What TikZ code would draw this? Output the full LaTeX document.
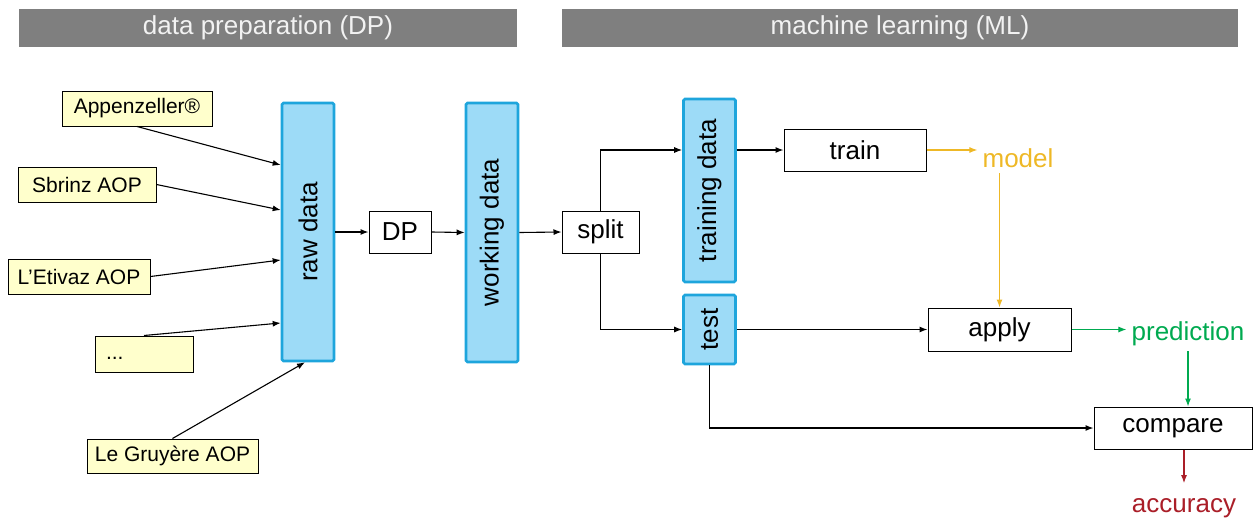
\documentclass[tikz,border=0pt]{standalone}
\usepackage{fontspec}
\setmainfont{Liberation Sans}
\usepackage{graphicx}
\usetikzlibrary{calc, positioning}
\usetikzlibrary{arrows.meta}

\definecolor{barGray}{RGB}{127,127,127}
\definecolor{barText}{RGB}{242,242,242}
\definecolor{dataFill}{RGB}{157,219,247}
\definecolor{dataEdge}{RGB}{30,165,220}
\definecolor{cheeseFill}{RGB}{255,255,204}
\definecolor{modelCol}{RGB}{238,184,38}
\definecolor{predCol}{RGB}{0,170,80}
\definecolor{accCol}{RGB}{170,30,40}

\begin{document}
\begin{tikzpicture}[x=1pt, y=-1pt,
  bar/.style={fill=barGray, text=barText, minimum height=38pt, inner sep=0pt,
    font=\fontsize{26}{30}\selectfont},
  store/.style={draw=dataEdge, line width=2.6pt, fill=dataFill, rounded corners=1.5pt,
    minimum width=52pt, inner sep=0pt, font=\fontsize{26}{30}\selectfont},
  cheese/.style={draw, line width=1pt, fill=cheeseFill, minimum height=34pt, inner sep=0pt,
    font=\fontsize{21}{25}\selectfont},
  proc/.style={draw, line width=1pt, fill=white, minimum height=42pt, inner sep=0pt,
    font=\fontsize{26}{30}\selectfont},
  outcome/.style={inner sep=5pt, font=\fontsize{26}{30}\selectfont},
  flow/.style={-{Latex[length=8pt, width=6pt]}, line width=1.1pt}]

\useasboundingbox (0,0) rectangle (1253,525);

\node[bar, minimum width=498pt] (dpbar) at (268,28) {data preparation (DP)};
\node[bar, minimum width=676pt] (mlbar) at (900,28) {machine learning (ML)};

\node[cheese, minimum width=150pt, minimum height=35pt] (app) at (137,108.5) {Appenzeller®};
\node[cheese, minimum width=138pt, minimum height=35pt] (sbr) at (87,184.5) {Sbrinz AOP};
\node[cheese, minimum width=142pt, minimum height=35pt] (eti) at (79,276.5) {L’Etivaz AOP};
\node[cheese, minimum width=98pt, minimum height=36pt] (dots) at (144,354)
  {\makebox[76pt][l]{\raisebox{-5pt}[0pt][0pt]{...}}};
\node[cheese, minimum width=171pt] (gru) at (172.5,456) {Le Gruyère AOP};

\node[store, minimum height=258pt] (raw) at (308,232) {\rotatebox{90}{raw data}};
\node[proc, minimum width=62pt] (dp) at (400,232) {DP};
\node[store, minimum height=259pt] (work) at (492,232.5) {\rotatebox{90}{working data}};
\node[proc, minimum width=77pt] (split) at (600.5,232) {split};
\node[store, minimum height=183pt] (trn) at (709.5,190.5) {\rotatebox{90}{training data}};
\node[store, minimum height=69pt] (tst) at (709.5,329.5) {\rotatebox{90}{test}};

\node[proc, minimum width=142pt] (train) at (855,150) {train};
\node[proc, minimum width=143pt, minimum height=43pt] (apply) at (999.5,329.5) {apply};
\node[proc, minimum width=158pt] (cmp) at (1173,428) {compare};

\node[outcome, text=modelCol] (model) at (1018,158.5) {model};
\node[outcome, text=predCol] (pred) at (1188,334) {prediction};
\node[outcome, text=accCol] (acc) at (1184,508) {accuracy};

\draw[flow] (app.south) -- ([yshift=67pt]raw.west);
\draw[flow] (sbr.east) -- ([yshift=22pt]raw.west);
\draw[flow] (eti.east) -- ([yshift=-28pt]raw.west);
\draw[flow] (dots.north) -- ([yshift=-91pt]raw.west);
\draw[flow] (gru.north) -- ([xshift=-3pt]raw.south);

\draw[flow] (raw.east) -- (dp.west);
\draw[flow] (dp.east) -- (work.west);
\draw[flow] (work.east) -- (split.west);
\draw[flow] (split.north) |- (trn.west |- train.west);
\draw[flow] (split.south) |- (tst.west);
\draw[flow] (trn.east |- train.west) -- (train.west);
\draw[flow] (tst.east) -- (apply.west);
\draw[flow] (tst.south) |- (cmp.west);

\draw[flow, modelCol] (train.east) -- (train.east -| model.west);
\draw[flow, modelCol] (model.south -| apply.north) -- (apply.north);
\draw[flow, predCol] (apply.east) -- (apply.east -| pred.west);
\draw[flow, predCol] (pred.south) -- (pred.south |- cmp.north);
\draw[flow, accCol] (cmp.south -| acc.north) -- ([yshift=10pt]acc.north);
\end{tikzpicture}
\end{document}
